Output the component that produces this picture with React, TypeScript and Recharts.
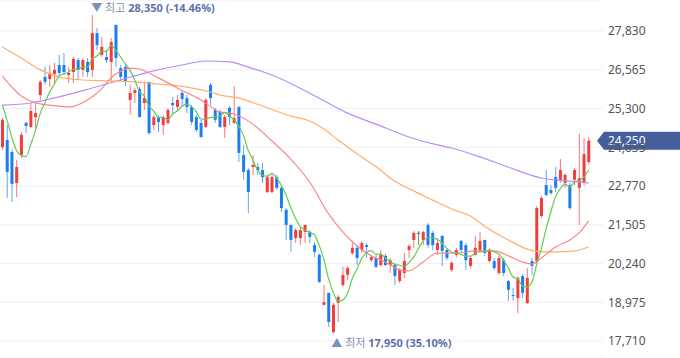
import React from 'react';
import { ComposedChart, Bar, Line, XAxis, YAxis, CartesianGrid, ReferenceDot, ReferenceLine } from 'recharts';

// daily candles (KRW)
const opens = [
  24040, 24270, 23880, 22870, 23780, 24830, 24700, 25020, 25740, 26330,
  26260, 26430, 26720, 26720, 26390, 26490, 26880, 26560, 26820, 26560,
  27760, 27050, 26980, 26820, 28030, 26620, 26660, 25580, 25810, 25940,
  25480, 26170, 24760, 24990, 24760, 24830, 25480, 25350, 25810, 25640,
  25350, 25020, 24830, 24700, 26070, 25250, 25190, 24700, 25320, 24830,
  25350, 23780, 23290, 23390, 23390, 23290, 22570, 22570, 23060, 22710,
  21990, 21500, 21070, 21070, 21270, 21270, 20840, 20520, 18890, 19280,
  18000, 18950, 19540, 19870, 20580, 20750, 20680, 20840, 20350, 20420,
  20190, 20490, 20190, 20190, 19670, 19930, 20680, 21010, 21240, 21010,
  21500, 21240, 20680, 21140, 20680, 20030, 20520, 20980, 20840, 20160,
  20520, 20680, 21010, 20320, 20320, 19930, 20350, 19670, 19210, 19110,
  19830, 18950, 20320, 20320, 21790, 22800, 22640, 23060, 22970, 22870,
  22800, 22970, 22710, 22900, 23550,
];
const highs = [
  24990, 24760, 23950, 23620, 24530, 24860, 25480, 25480, 26230, 26660,
  26720, 26790, 27050, 27110, 26660, 26980, 26950, 26950, 26950, 28350,
  27930, 27630, 27210, 27600, 28030, 26720, 26720, 26070, 25970, 26000,
  26170, 26170, 25090, 25090, 25090, 25320, 25680, 25740, 25870, 25740,
  25410, 25090, 24930, 25640, 26130, 25320, 25250, 25090, 25380, 26030,
  25380, 24110, 23360, 23780, 23520, 23520, 23130, 23190, 23130, 22770,
  22050, 21500, 21400, 21430, 21500, 21330, 20940, 20580, 19540, 19280,
  18950, 19210, 20130, 20160, 20910, 20840, 20980, 20910, 20520, 20520,
  20680, 20550, 20420, 20260, 20090, 20580, 20880, 21300, 21300, 21300,
  21560, 21300, 21070, 21170, 20750, 20320, 20750, 21010, 20910, 20490,
  21140, 21270, 21010, 20750, 20420, 20490, 20420, 19700, 19440, 19830,
  19900, 20090, 20420, 22120, 22440, 23290, 22800, 23390, 23650, 23190,
  22870, 23360, 24470, 24340, 24370,
];
const lows = [
  23950, 22380, 22250, 22410, 23680, 24500, 24660, 24660, 25580, 26070,
  26000, 26130, 26390, 26390, 26130, 26130, 26230, 26330, 26330, 26330,
  27210, 26980, 26790, 26170, 26660, 26170, 26030, 25090, 25480, 25020,
  25250, 24440, 24600, 24530, 24440, 24760, 25090, 25190, 25350, 25150,
  24760, 24530, 24340, 24660, 25410, 24830, 24660, 24340, 24760, 24790,
  23550, 22970, 21890, 23130, 23130, 22870, 22540, 22540, 22640, 21920,
  21010, 20620, 20910, 20840, 20910, 20910, 20450, 19600, 18890, 18170,
  17950, 18330, 19470, 19700, 20520, 20190, 20580, 20420, 20290, 20090,
  20130, 20160, 19930, 19540, 19600, 19770, 20420, 20750, 20840, 20840,
  20750, 20680, 20520, 20160, 20350, 19960, 20450, 20620, 20030, 20090,
  20490, 20580, 20490, 20260, 20030, 19870, 19830, 19020, 19020, 18620,
  19110, 18920, 19870, 20260, 21730, 22440, 22480, 22570, 22870, 22710,
  21990, 22800, 21500, 22800, 23460,
];
const closes = [
  24930, 23230, 22840, 23390, 24440, 24730, 25220, 25150, 26170, 26170,
  26460, 26560, 26460, 26490, 26460, 26920, 26560, 26880, 26490, 27760,
  27370, 27310, 26880, 27470, 26950, 26330, 26170, 25810, 25900, 25020,
  25640, 24500, 25020, 24860, 25020, 25250, 25410, 25580, 25610, 25350,
  24860, 24600, 24370, 25580, 25640, 24930, 24700, 25020, 25020, 24990,
  23850, 23230, 22570, 23460, 23290, 23060, 23060, 23060, 22710, 22050,
  21500, 21010, 21330, 21330, 21500, 21110, 20620, 19640, 18980, 18330,
  18890, 19150, 19870, 20090, 20750, 20420, 20910, 20780, 20450, 20130,
  20520, 20190, 20350, 19830, 20030, 20320, 20810, 21240, 21240, 21270,
  20840, 20840, 20910, 20650, 20420, 20260, 20680, 20680, 20350, 20420,
  20750, 20980, 20580, 20680, 20090, 20420, 19930, 19380, 19180, 19770,
  19280, 19770, 20160, 22050, 22380, 22480, 22540, 22710, 23290, 23130,
  22050, 23290, 23030, 23810, 24250,
];
// closes of the 4 sessions before the window (for the 5-day average)
const priorCloses = [25740, 25640, 25510, 25250];

// longer moving averages: [candle index, value]
const ma20Points = [
  [0, 26360], [4, 25710], [8, 25450], [12, 25380], [14, 25350], [18, 25580], [21, 25940],
  [23, 26300], [25, 26520], [27, 26620], [29, 26590], [33, 26300], [37, 25970], [42, 25580],
  [46, 25190], [49, 25120], [53, 24790], [57, 24240], [61, 23650], [65, 22900], [69, 21860],
  [72, 21270], [75, 20810], [78, 20490], [81, 20290], [84, 20030], [86, 20000], [89, 20290],
  [92, 20580], [96, 20580], [100, 20650], [104, 20650], [107, 20490], [110, 20290], [112, 20220],
  [114, 20420], [117, 20780], [120, 21010], [122, 21240], [124, 21630],
];
const ma60Points = [
  [0, 27310], [4, 26950], [8, 26560], [12, 26330], [17, 26230], [23, 26200], [28, 26170],
  [33, 26100], [39, 26000], [44, 25840], [46, 25740], [50, 25640], [55, 25380], [61, 25050],
  [65, 24890], [68, 24630], [71, 24270], [76, 23720], [80, 23290], [82, 23030], [87, 22610],
  [91, 22310], [95, 22020], [99, 21790], [102, 21460], [107, 21010], [111, 20710], [114, 20620],
  [118, 20620], [121, 20650], [124, 20780],
];
const ma120Points = [
  [0, 25410], [6, 25480], [12, 25680], [19, 25970], [25, 26230], [31, 26490], [38, 26720],
  [43, 26850], [48, 26820], [52, 26650], [58, 26330], [65, 25800], [73, 25150], [79, 24790],
  [86, 24370], [92, 24110], [95, 24010], [101, 23720], [107, 23390], [114, 23030], [120, 22930],
  [124, 22870],
];

const yTicks = [17710, 18975, 20240, 21505, 22770, 24035, 25300, 26565, 27830];
const currentPrice = 24250;
const highChange = '(-14.46%)';
const lowChange = '(35.10%)';

const UP = '#f23d3d';
const DOWN = '#1a7ef2';
const FLAT = '#555';
const FONT = "'Noto Sans', 'Noto Sans CJK KR', sans-serif";

const allCloses = [...priorCloses, ...closes];
const toMap = (pts: number[][]) => new Map(pts.map(([i, v]) => [i, v]));
const m20 = toMap(ma20Points);
const m60 = toMap(ma60Points);
const m120 = toMap(ma120Points);

const data = closes.map((c, i) => ({
  i,
  o: opens[i],
  h: highs[i],
  l: lows[i],
  c,
  range: [lows[i], highs[i]],
  ma5: allCloses.slice(i, i + 5).reduce((s, v) => s + v, 0) / 5,
  ma20: m20.get(i) ?? null,
  ma60: m60.get(i) ?? null,
  ma120: m120.get(i) ?? null,
}));

const maxHigh = Math.max(...highs);
const minLow = Math.min(...lows);
const maxIdx = highs.indexOf(maxHigh);
const minIdx = lows.indexOf(minLow);
const fmt = (v: number) => v.toLocaleString('en-US');

const Candle = (props: any) => {
  const { x, y, width, height, payload } = props;
  const { o, h, l, c } = payload;
  const top = Math.min(y, y + height);
  const span = Math.abs(height);
  const py = (v: number) => (h === l ? top : top + ((h - v) / (h - l)) * span);
  const color = c > o ? UP : c < o ? DOWN : FLAT;
  const cx = x + width / 2;
  const bTop = py(Math.max(o, c));
  const bH = Math.max(1, py(Math.min(o, c)) - bTop);
  return (
    <g>
      <line x1={cx} x2={cx} y1={top} y2={top + span} stroke={color} strokeOpacity={0.7} strokeWidth={1} />
      <rect x={x} y={bTop} width={width} height={bH} fill={color} />
    </g>
  );
};

const HighMark = (props: any) => {
  const { cx, cy } = props;
  return (
    <text x={cx - 1} y={cy - 3} fontSize={11} fontFamily={FONT}>
      <tspan fill="#7f8fbb">▼ 최고 </tspan>
      <tspan fill="#5d70aa" fontWeight="bold">{fmt(maxHigh)} {highChange}</tspan>
    </text>
  );
};

const LowMark = (props: any) => {
  const { cx, cy } = props;
  return (
    <text x={cx - 2} y={cy + 13} fontSize={11} fontFamily={FONT}>
      <tspan fill="#7f8fbb">▲ 최저 </tspan>
      <tspan fill="#5d70aa" fontWeight="bold">{fmt(minLow)} {lowChange}</tspan>
    </text>
  );
};

const PriceTag = (props: any) => {
  const { viewBox } = props;
  if (!viewBox) return null;
  const right = viewBox.x + viewBox.width;
  const y = viewBox.y;
  const tip = right - 6;
  return (
    <g>
      <path d={`M${tip},${y} L${right + 1},${y - 9} L680,${y - 9} L680,${y + 9} L${right + 1},${y + 9} Z`} fill="#465f9c" />
      <text x={right + 5} y={y} dy="0.35em" fontSize={12} fill="#fff" fontFamily={FONT}>
        {fmt(currentPrice)}
      </text>
    </g>
  );
};

const lineProps = {
  strokeWidth: 1.2,
  dot: false,
  activeDot: false,
  type: 'monotone' as const,
  isAnimationActive: false,
};

export default function App() {
  return (
    <div style={{ position: 'absolute', left: 0, top: 0, width: 680, height: 358, background: '#fff' }}>
      <ComposedChart width={680} height={358} data={data} margin={{ top: 0, right: 0, bottom: 0, left: 0 }}>
        <CartesianGrid vertical={false} stroke="#eff0f5" />
        <XAxis dataKey="i" hide padding={{ left: 0, right: 12 }} />
        <YAxis
          orientation="right"
          width={77}
          domain={[17155, 28842]}
          allowDataOverflow
          ticks={yTicks}
          tickFormatter={fmt}
          tickLine={false}
          axisLine={false}
          tickSize={0}
          tickMargin={5}
          tick={{ fontSize: 12, fill: '#555', fontFamily: FONT }}
        />
        <Bar dataKey="range" barSize={3} shape={(p: any) => <Candle {...p} />} activeBar={false} isAnimationActive={false} />
        <Line dataKey="ma120" stroke="#b98cf7" connectNulls {...lineProps} />
        <Line dataKey="ma60" stroke="#ffae6b" connectNulls {...lineProps} />
        <Line dataKey="ma20" stroke="#ff8585" connectNulls {...lineProps} />
        <Line dataKey="ma5" stroke="#62cc55" {...lineProps} />
        <ReferenceDot x={maxIdx} y={maxHigh} r={0} shape={(p: any) => <HighMark {...p} />} />
        <ReferenceDot x={minIdx} y={minLow} r={0} shape={(p: any) => <LowMark {...p} />} />
        <ReferenceLine y={currentPrice} stroke="none" label={<PriceTag />} />
      </ComposedChart>
    </div>
  );
}
